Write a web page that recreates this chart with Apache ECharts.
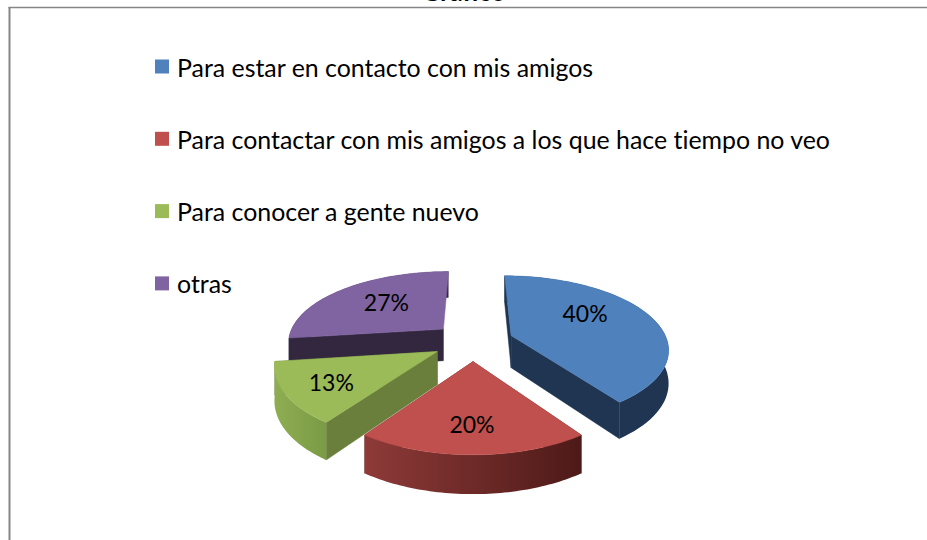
<!DOCTYPE html>
<html>
<head>
<meta charset="utf-8">
<style>
html,body{margin:0;padding:0;background:#fff;}
#main{width:927px;height:540px;}
#main text{font-variant-ligatures:none;}
</style>
<script src="https://cdn.jsdelivr.net/npm/echarts@6/dist/echarts.min.js"></script>
</head>
<body>
<div id="main"></div>
<script>
var categories = ['Para estar en contacto con mis amigos', 'Para contactar con mis amigos a los que hace tiempo no veo', 'Para conocer a gente nuevo', 'otras'];
var values = [40, 20, 13, 27];

var topColors = ['#4F81BD', '#C0504D', '#9BBB59', '#8064A2'];
var wallColors = ['#1F3552', '#6B2A28', '#6B7F3C', '#32273F'];
// degradado de la pared exterior, izquierda a derecha
var outerColors = [['#1F3552', '#1F3552'], ['#8E3A38', '#4D1A18'], ['#8FAE52', '#7A9A45'], ['#32273F', '#32273F']];
var drawOrder = [2, 4, 3, 1];
// etiqueta respecto al vertice de cada porcion
var labelShift = [[74, -23], [-1, 62], [-106, 30], [-57, -27]];

// vista 3D de la tarta
var cx = 473, cy = 341.5, R = 154, tilt = 0.475, persp = 0.17, baseScale = 1.015, depth = 32, explode = 40;

var total = values.reduce(function(a, b) { return a + b; }, 0);

function project(X, Y, down) {
	var sc = baseScale + persp * Y / R;
	return [cx + X * sc, cy + Y * tilt * sc + (down ? depth * sc : 0)];
}

function face(points, fill) {
	return {type: 'polygon', shape: {points: points}, style: {fill: fill, stroke: fill, lineWidth: 0.5}};
}

function makeRender(idx) {
	var before = 0;
	for (var i = 0; i < idx; i++) before += values[i];
	return function(params, api) {
		var v = api.value(0);
		var a0 = before / total * Math.PI * 2;
		var a1 = a0 + v / total * Math.PI * 2;
		var mid = (a0 + a1) / 2;
		var ox = Math.sin(mid) * explode, oy = -Math.cos(mid) * explode;
		var apex = project(ox, oy), apexLow = project(ox, oy, true);
		var arcTop = [], arcLow = [];
		var steps = 60;
		for (var k = 0; k <= steps; k++) {
			var a = a0 + (a1 - a0) * k / steps;
			var X = ox + Math.sin(a) * R, Y = oy - Math.cos(a) * R;
			arcTop.push(project(X, Y));
			arcLow.push(project(X, Y, true));
		}
		var wall = arcTop.concat(arcLow.slice().reverse());
		var children = [face([apex, arcTop[0], arcLow[0], apexLow], wallColors[idx])];
		// la ultima porcion termina mirando hacia atras: esa cara no se ve
		if (before + v < total) {
			children.push(face([apex, arcTop[steps], arcLow[steps], apexLow], wallColors[idx]));
		}
		var grad = new echarts.graphic.LinearGradient(0, 0, 1, 0, [
			{offset: 0, color: outerColors[idx][0]},
			{offset: 1, color: outerColors[idx][1]}
		]);
		children.push({type: 'polygon', shape: {points: wall}, style: {fill: grad}});
		children.push(face([apex].concat(arcTop), topColors[idx]));
		children.push({type: 'text', z2: 10, style: {
			x: apex[0] + labelShift[idx][0], y: apex[1] + labelShift[idx][1],
			text: Math.round(v) + '%', fill: '#000',
			font: '23px Lato', align: 'center', verticalAlign: 'middle'
		}});
		return {type: 'group', children: children};
	};
}

var series = [];
for (var i = 0; i < categories.length; i++) {
	series.push({
		name: categories[i],
		type: 'custom',
		coordinateSystem: 'none',
		z: drawOrder[i],
		silent: true,
		itemStyle: {color: topColors[i]},
		data: [[values[i]]],
		renderItem: makeRender(i)
	});
}

var myChart = echarts.init(document.getElementById('main'), null, {renderer: 'svg'});
myChart.setOption({
	backgroundColor: '#fff',
	animation: false,
	title: {
		text: 'Gráfico',
		left: 'center',
		top: -27,
		textStyle: {fontFamily: 'Lato', fontSize: 26, fontWeight: 'bold', color: '#000'}
	},
	legend: {
		orient: 'vertical',
		left: 150,
		top: 49,
		icon: 'rect',
		itemWidth: 14,
		itemHeight: 14,
		itemGap: 47.3,
		data: categories,
		selectedMode: false,
		textStyle: {fontFamily: 'Lato', fontSize: 24.9, color: '#000', padding: [0, 0, 0, 3]}
	},
	graphic: [
		{type: 'line', silent: true, shape: {x1: 9.5, y1: 7, x2: 9.5, y2: 540}, style: {stroke: '#868686', lineWidth: 2}},
		{type: 'line', silent: true, shape: {x1: 8.5, y1: 7.5, x2: 927, y2: 7.5}, style: {stroke: '#868686', lineWidth: 1.5}}
	],
	series: series
});
</script>
</body>
</html>
